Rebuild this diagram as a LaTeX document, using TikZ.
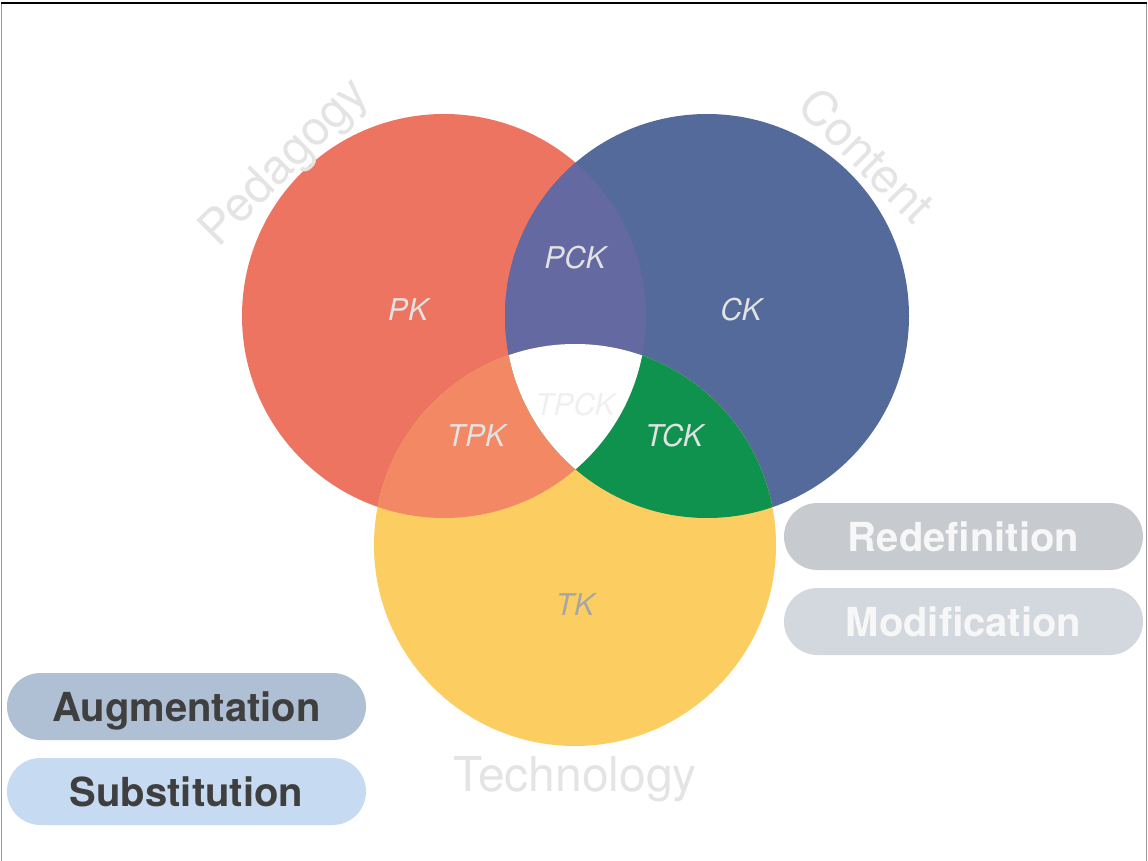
\documentclass[tikz,border=0pt]{standalone}
\usepackage{fontspec}
\setmainfont{TeX Gyre Heros}
\definecolor{cred}{HTML}{EE7462}
\definecolor{cblue}{HTML}{536A9A}
\definecolor{cyel}{HTML}{FCCE62}
\definecolor{cpur}{HTML}{6469A2}
\definecolor{corg}{HTML}{F28864}
\definecolor{cgrn}{HTML}{10924F}
\definecolor{lbl}{HTML}{E2E2E2}
\definecolor{ttl}{HTML}{E4E4E4}
\definecolor{pillA}{HTML}{C7CACF}
\definecolor{pillB}{HTML}{D3D8DF}
\definecolor{pillC}{HTML}{AFBFD4}
\definecolor{pillD}{HTML}{C6DAF1}
\definecolor{darktxt}{HTML}{3F3F3F}
\tikzset{
  region/.style={font=\itshape\fontsize{30}{32}\selectfont, text=lbl, inner sep=0pt, text height=21.5pt, text depth=0pt},
  title/.style={font=\fontsize{48}{52}\selectfont, text=ttl, inner sep=0pt, text height=34.5pt, text depth=0pt},
  pill/.style={rounded corners=33.5pt, minimum width=359pt, minimum height=67pt, inner sep=0pt, text height=29pt, text depth=0pt, font=\bfseries\fontsize{40}{44}\selectfont}
}
\begin{document}
\begin{tikzpicture}[x=1pt,y=-1pt]
\useasboundingbox (0,0) rectangle (1148,861);
\fill[white] (0,0) rectangle (1148,861);
\draw[gray!80, line width=1pt] (1.5,3) -- (1.5,861);
\draw[gray!80, line width=1pt] (1146.5,3) -- (1146.5,861);
\draw[black, line width=1.2pt] (1,3) -- (1147,3);
\def\rc{(444,316) circle (202)}
\def\bc{(707,316) circle (202)}
\def\yc{(575,545) circle (201)}
\fill[cred] \rc;
\fill[cblue] \bc;
\fill[cyel] \yc;
\begin{scope}
  \clip \rc;
  \fill[cpur] \bc;
  \fill[corg] \yc;
\end{scope}
\begin{scope}
  \clip \bc;
  \fill[cgrn] \yc;
  \clip \rc;
  \fill[white] \yc;
\end{scope}
\node[region] (pk) at (408,310) {PK};
\node[region] (ck) at (741,310) {CK};
\node[region] (pck) at (575,258) {PCK};
\node[region] (tpk) at (476,436) {TPK};
\node[region] (tck) at (674,436) {TCK};
\node[region, text=black!6] (tpck) at (575,405) {TPCK};
\node[region, text=black!35] (tk) at (575,605) {TK};
\node[title, rotate=45] (ped) at (282,160) {Pedagogy};
\node[title, rotate=-45] (con) at (867,155) {Content};
\node[title] (tec) at (575,774.5) {Technology};
\node[pill, fill=pillA, text=white!97!black] (redef) at (963.5,536.5) {Redefinition};
\node[pill, fill=pillB, text=white!97!black] (modif) at (963.5,621.5) {Modification};
\node[pill, fill=pillC, text=darktxt] (augm) at (186.5,706.5) {Augmentation};
\node[pill, fill=pillD, text=darktxt] (subs) at (186.5,791.5) {Substitution};
\end{tikzpicture}
\end{document}
